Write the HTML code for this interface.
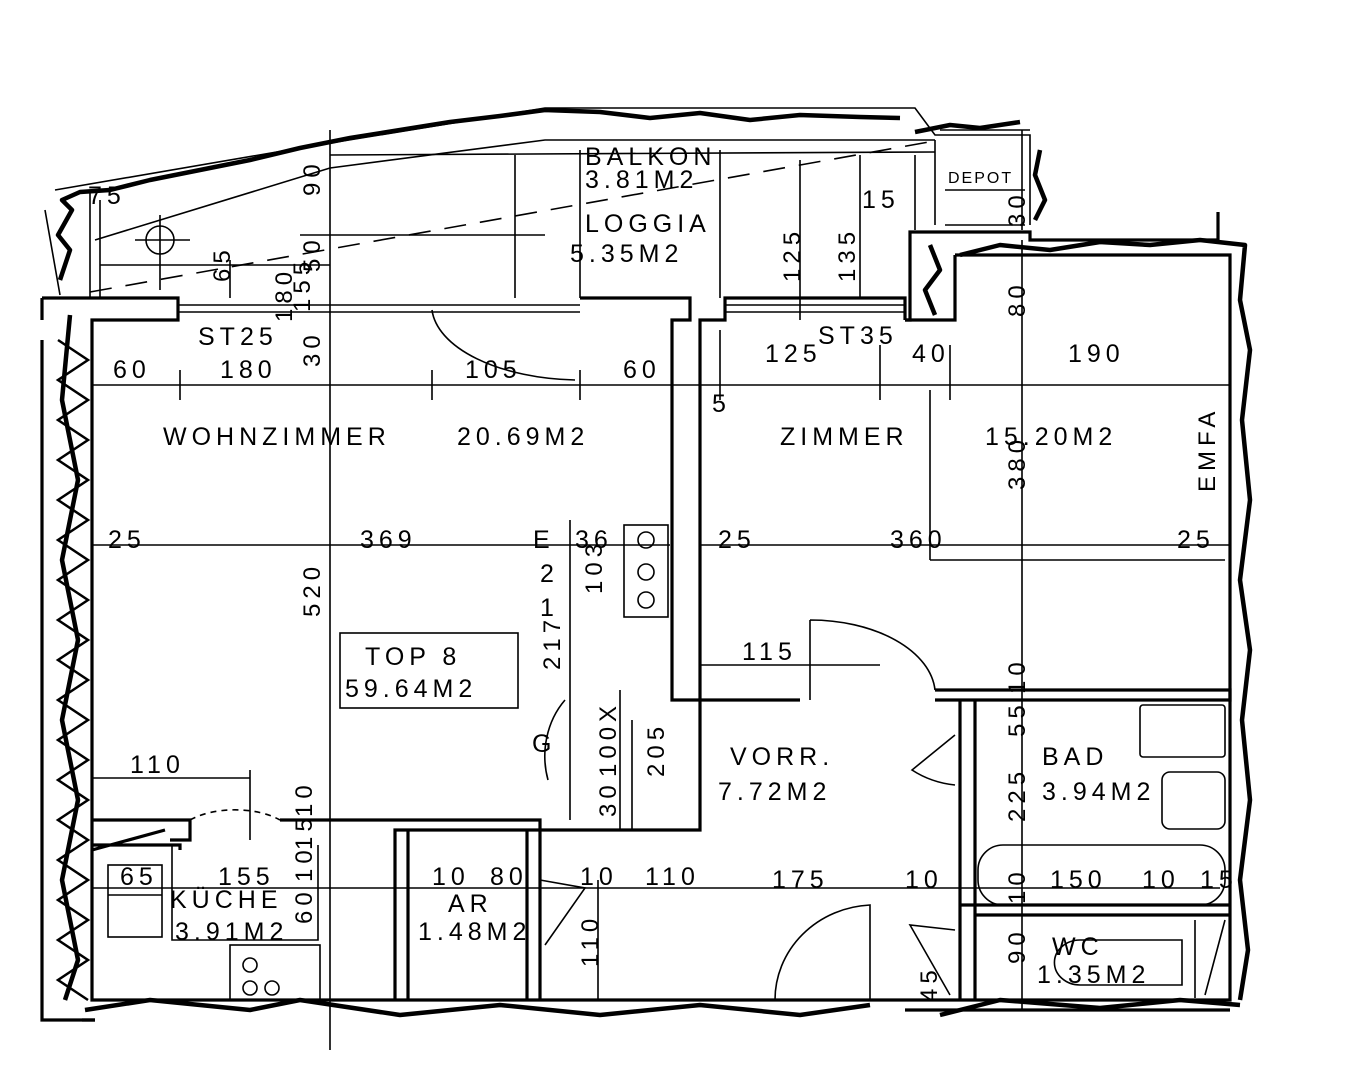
<!DOCTYPE html>
<html><head><meta charset="utf-8"><style>
html,body{margin:0;padding:0;background:#fff}
svg{display:block}
text{font-family:"Liberation Sans",sans-serif;fill:#000;letter-spacing:5px}
</style></head><body>
<svg width="1353" height="1080" viewBox="0 0 1353 1080" xmlns="http://www.w3.org/2000/svg">
<g fill="none" stroke="#000" stroke-width="1.6">
<path d="M55,190 L300,148 L545,108 L915,108 L935,135 L1030,135 L1030,225"/>
<path d="M95,240 L330,168 L545,140 L935,140"/>
<path d="M330,155 L935,152"/>
<path d="M45,210 L60,295 M90,190 L90,298 M100,200 L100,298"/>
<path d="M230,260 L230,298 M330,130 L330,1050 M515,155 L515,298 M580,150 L580,298 M720,150 L720,298 M800,160 L800,320 M860,155 L860,298 M915,155 L915,230"/>
<path d="M935,140 L935,225 M940,130 L1030,130 M945,190 L1025,190 M945,225 L1025,225 M1022,130 L1022,230"/>
<path d="M100,265 L330,265 M300,235 L545,235"/>
<path d="M90,292 L940,140" stroke-dasharray="22,14"/>
<circle cx="160" cy="240" r="14"/>
<path d="M135,240 L190,240 M160,215 L160,290"/>
<g stroke-width="3.2">
<path d="M42,298 L178,298 L178,320 L92,320 L92,1000 L905,1000"/>
<path d="M42,298 L42,320 M42,340 L42,1020 L95,1020"/>
<path d="M580,298 L690,298 L690,320 L672,320 L672,700 L700,700 L700,320 L725,320 L725,298 L905,298 L905,320"/>
<path d="M905,320 L910,320 L910,232 L1030,232 L1030,240 L1218,240 L1218,212"/>
<path d="M955,255 L1230,255 L1230,1000 L905,1000"/>
<path d="M955,255 L955,320 L905,320"/>
<path d="M92,820 L190,820 L190,840 L170,840 M92,845 L180,845 L180,850 M92,850 L165,830"/>
<path d="M280,820 L540,820 L540,830 L395,830 L395,1000 M408,830 L408,1000 M527,830 L527,1000 M540,830 L540,1000"/>
<path d="M540,830 L700,830 L700,700 L800,700 M935,700 L1230,700 L1230,690 L935,690"/>
<path d="M960,700 L960,1000 M975,700 L975,1000 M960,905 L1230,905 M975,915 L1230,915"/>
<path d="M905,1010 L1230,1010 M82,1020 L95,1020"/>
</g>
<path d="M178,305 L580,305 M178,312 L580,312 M725,305 L905,305 M725,312 L905,312"/>
<g stroke-width="4.5" stroke-linejoin="round">
<path d="M60,280 L70,250 L58,235 L72,210 L62,200 L80,192 L110,190 L150,180 L200,170 L250,160 L300,148 L350,138 L400,130 L450,122 L500,116 L545,110 L600,112 L650,118 L700,113 L750,120 L800,115 L860,117 L900,118"/>
<path d="M915,132 L950,125 L980,128 L1020,122 M1040,150 L1035,175 L1045,200 L1035,220"/>
<path d="M930,245 L940,270 L925,290 L935,315 M960,255 L1000,245 L1050,250 L1100,242 L1150,245 L1200,240 L1245,245 L1240,300 L1250,350 L1242,420 L1250,500 L1240,580 L1250,650 L1242,720 L1250,800 L1240,880 L1248,950 L1240,1000"/>
<path d="M70,315 L62,400 L78,480 L62,560 L78,640 L62,720 L78,800 L62,880 L78,960 L65,1000"/>
<path d="M85,1010 L150,1000 L250,1010 L300,1000 L400,1015 L500,1005 L600,1015 L700,1005 L800,1015 L870,1005 M940,1015 L1000,1000 L1100,1008 L1180,1000 L1240,1005"/>
</g>
<path d="M58,340 L88,360 L58,380 L88,400 L58,420 L88,440 L58,460 L88,480 L58,500 L88,520 L58,540 L88,560 L58,580 L88,600 L58,620 L88,640 L58,660 L88,680 L58,700 L88,720 L58,740 L88,760 L58,780 L88,800 L58,820 L88,840 L58,860 L88,880 L58,900 L88,920 L58,940 L88,960 L58,980 L88,1000" stroke-width="2.5"/>
<path d="M92,385 L1230,385 M92,545 L670,545 M700,545 L1230,545 M92,778 L250,778 M92,888 L1220,888 M700,665 L880,665"/>
<path d="M570,520 L570,820 M620,690 L620,830 M632,720 L632,830 M1022,240 L1022,1010 M930,390 L930,560 M930,560 L1225,560" />
<path d="M180,370 L180,400 M432,370 L432,400 M580,370 L580,400 M720,330 L720,400 M880,345 L880,400 M950,345 L950,400 M250,770 L250,840 M598,880 L598,1000"/>
<path d="M432,310 A150,75 0 0 0 575,380"/>
<path d="M810,620 A125,75 0 0 1 935,690 M810,620 L810,700"/>
<path d="M565,700 A70,80 0 0 0 548,780"/>
<path d="M190,820 A60,30 0 0 1 280,820" stroke-dasharray="6,5"/>
<path d="M775,1000 A100,95 0 0 1 870,905 L870,1000"/>
<path d="M955,735 L912,770 A90,80 0 0 0 955,785"/>
<path d="M540,880 L585,888 L545,945"/>
<path d="M955,930 L910,925 L950,995"/>
<rect x="624" y="525" width="44" height="92"/>
<circle cx="646" cy="540" r="8"/><circle cx="646" cy="572" r="8"/><circle cx="646" cy="600" r="8"/>
<rect x="230" y="945" width="90" height="55"/>
<circle cx="250" cy="965" r="7"/><circle cx="250" cy="988" r="7"/><circle cx="272" cy="988" r="7"/>
<rect x="108" y="865" width="54" height="72"/>
<path d="M108,895 L162,895 M172,845 L172,940 L318,940 L318,845"/>
<rect x="340" y="633" width="178" height="75"/>
<rect x="1140" y="705" width="85" height="52" rx="3"/>
<rect x="1162" y="772" width="63" height="57" rx="8"/>
<rect x="978" y="845" width="247" height="60" rx="25"/>
<path d="M1080,940 L1182,940 L1182,985 L1080,985 A25,22 0 0 1 1080,940"/>
<path d="M1195,920 L1195,998 M1205,995 L1225,920"/>
</g>
<g font-size="25">
<text x="585" y="165">BALKON</text>
<text x="585" y="188">3.81M2</text>
<text x="585" y="232">LOGGIA</text>
<text x="570" y="262">5.35M2</text>
<text x="948" y="183" font-size="16" style="letter-spacing:2px">DEPOT</text>
<text x="163" y="445">WOHNZIMMER</text>
<text x="457" y="445">20.69M2</text>
<text x="780" y="445">ZIMMER</text>
<text x="985" y="445">15.20M2</text>
<text x="365" y="665">TOP 8</text>
<text x="345" y="697">59.64M2</text>
<text x="730" y="765">VORR.</text>
<text x="718" y="800">7.72M2</text>
<text x="1042" y="765">BAD</text>
<text x="1042" y="800">3.94M2</text>
<text x="1052" y="955">WC</text>
<text x="1037" y="983">1.35M2</text>
<text x="170" y="908">KÜCHE</text>
<text x="175" y="940">3.91M2</text>
<text x="448" y="912">AR</text>
<text x="418" y="940">1.48M2</text>
<text x="88" y="204">75</text>
<text x="198" y="345">ST25</text>
<text x="818" y="344">ST35</text>
<text x="113" y="378">60</text>
<text x="220" y="378">180</text>
<text x="465" y="378">105</text>
<text x="623" y="378">60</text>
<text x="765" y="362">125</text>
<text x="912" y="362">40</text>
<text x="1068" y="362">190</text>
<text x="108" y="548">25</text>
<text x="360" y="548">369</text>
<text x="533" y="548">E</text>
<text x="575" y="548">36</text>
<text x="718" y="548">25</text>
<text x="890" y="548">360</text>
<text x="1177" y="548">25</text>
<text x="540" y="582">2</text>
<text x="540" y="616">1</text>
<text x="532" y="752">G</text>
<text x="742" y="660">115</text>
<text x="712" y="412">5</text>
<text x="130" y="773">110</text>
<text x="120" y="885">65</text>
<text x="218" y="885">155</text>
<text x="432" y="885">10</text>
<text x="490" y="885">80</text>
<text x="580" y="885">10</text>
<text x="645" y="885">110</text>
<text x="772" y="888">175</text>
<text x="905" y="888">10</text>
<text x="1050" y="888">150</text>
<text x="1142" y="888">10</text>
<text x="1200" y="888">15</text>
<text x="862" y="208">15</text>
</g>
<g font-size="24" style="letter-spacing:4px">
<text transform="translate(320,196) rotate(-90)">90</text>
<text transform="translate(230,282) rotate(-90)">65</text>
<text transform="translate(292,322) rotate(-90)">180</text>
<text transform="translate(310,312) rotate(-90)">155</text>
<text transform="translate(320,272) rotate(-90)">50</text>
<text transform="translate(320,367) rotate(-90)">30</text>
<text transform="translate(800,282) rotate(-90)">125</text>
<text transform="translate(855,282) rotate(-90)">135</text>
<text transform="translate(1025,227) rotate(-90)">30</text>
<text transform="translate(1025,317) rotate(-90)">80</text>
<text transform="translate(1025,490) rotate(-90)">380</text>
<text transform="translate(1215,492) rotate(-90)">EMFA</text>
<text transform="translate(320,617) rotate(-90)">520</text>
<text transform="translate(602,594) rotate(-90)">103</text>
<text transform="translate(560,670) rotate(-90)">217</text>
<text transform="translate(616,777) rotate(-90)">100X</text>
<text transform="translate(664,777) rotate(-90)">205</text>
<text transform="translate(616,817) rotate(-90)">30</text>
<text transform="translate(312,817) rotate(-90)">10</text>
<text transform="translate(312,850) rotate(-90)">15</text>
<text transform="translate(312,882) rotate(-90)">10</text>
<text transform="translate(312,924) rotate(-90)">60</text>
<text transform="translate(598,967) rotate(-90)">110</text>
<text transform="translate(1025,694) rotate(-90)">10</text>
<text transform="translate(1025,737) rotate(-90)">55</text>
<text transform="translate(1025,822) rotate(-90)">225</text>
<text transform="translate(1025,904) rotate(-90)">10</text>
<text transform="translate(1025,964) rotate(-90)">90</text>
<text transform="translate(937,1002) rotate(-90)">45</text>
</g>
</svg>
</body></html>
